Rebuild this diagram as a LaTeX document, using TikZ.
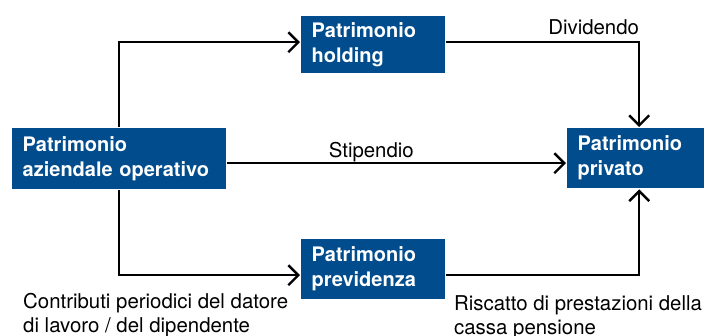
\documentclass[tikz,border=0pt]{standalone}
\usepackage{fontspec}
\setmainfont{TeX Gyre Heros}
\usetikzlibrary{arrows.meta}
\definecolor{boxblue}{RGB}{0,76,140}
\tikzstyle{every path}=[line width=2.4pt]
\tikzstyle{asset}=[fill=boxblue, text=white, font=\bfseries\fontsize{20}{25}\selectfont,
    align=left, inner xsep=10.5pt, inner ysep=0pt, anchor=north west]
\tikzstyle{flow}=[-{Straight Barb[length=10pt,width=20pt]}]
\tikzstyle{flowtext}=[font=\fontsize{20.4}{24.5}\selectfont, align=left, inner sep=0pt]

\begin{document}
\begin{tikzpicture}[x=1pt, y=-1pt]
            \useasboundingbox (0,0) rectangle (706,336);

            \node[asset, text width=193pt, minimum height=61pt] (az) at (11,127)
                {Patrimonio\\aziendale operativo};
            \node[asset, text width=123pt, minimum height=57pt] (hold) at (300,15)
                {Patrimonio\\holding};
            \node[asset, text width=123pt, minimum height=60pt] (prev) at (300,238)
                {Patrimonio\\previdenza};
            \node[asset, text width=116pt, minimum height=60pt] (priv) at (566,127)
                {Patrimonio\\privato};

            \draw[flow] (az.north) |- ([yshift=2.5pt]hold.west);
            \draw[flow] (az.south) |- ([yshift=-6pt]prev.west);
            \draw[flow] ([yshift=-4.5pt]az.east) -- ([yshift=-4.5pt]az.east -| priv.west)
                node[flowtext, pos=0.425, anchor=base, yshift=6pt]{Stipendio};
            \draw[flow] ([yshift=2.5pt]hold.east) -| ([xshift=3.5pt]priv.north)
                node[flowtext, pos=0.5, anchor=base east, yshift=8pt, xshift=1pt]{Dividendo};
            \draw[flow] ([yshift=-6pt]prev.east) -| ([xshift=3.5pt]priv.south);

            \node[flowtext, anchor=north west] (contrib) at (22,292)
                {Contributi periodici del datore\\di lavoro / del dipendente};
            \node[flowtext, anchor=north west] (riscatto) at (453,294)
                {Riscatto di prestazioni della\\cassa pensione};
        \end{tikzpicture}
\end{document}
